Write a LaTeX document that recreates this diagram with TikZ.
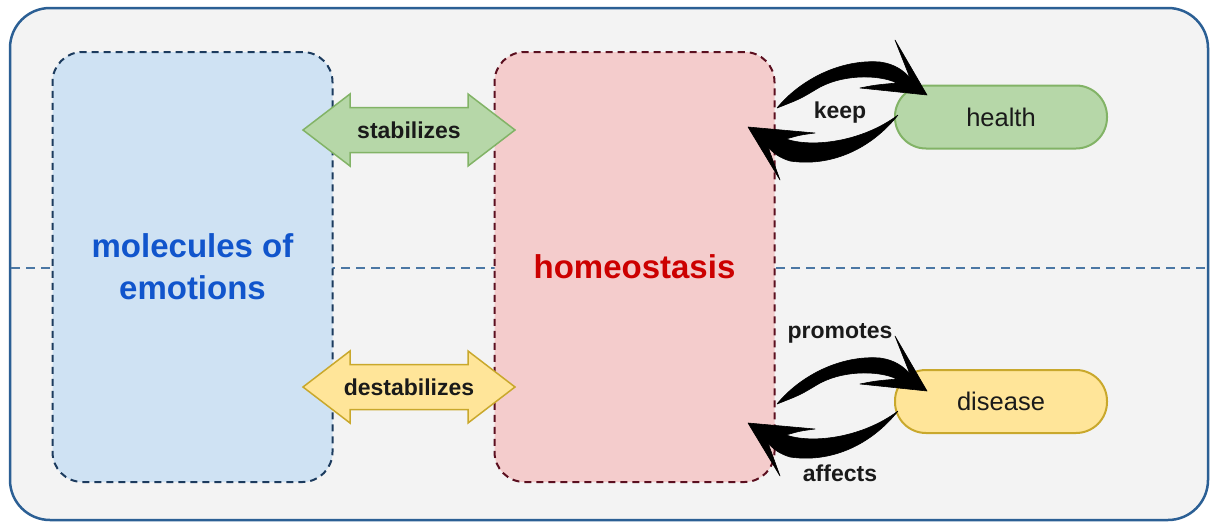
\documentclass[tikz,border=0pt]{standalone}
\usepackage{fontspec}
\setmainfont{Liberation Sans}
\definecolor{framebg}{HTML}{F3F3F3}
\definecolor{frameline}{HTML}{2B5F94}
\definecolor{molfill}{HTML}{CFE2F3}
\definecolor{molline}{HTML}{1C3B5E}
\definecolor{moltext}{HTML}{1155CC}
\definecolor{homfill}{HTML}{F4CCCC}
\definecolor{homline}{HTML}{5B0F1F}
\definecolor{homtext}{HTML}{CC0000}
\definecolor{grfill}{HTML}{B6D7A8}
\definecolor{grline}{HTML}{82B366}
\definecolor{yefill}{HTML}{FFE599}
\definecolor{yeline}{HTML}{C9A82C}
\definecolor{labtext}{HTML}{1A1A1A}
\begin{document}
\begin{tikzpicture}[x=1pt,y=-1pt,
  bigbox/.style={rectangle, rounded corners=30pt, line width=2pt, dash pattern=on 7pt off 5pt,
     minimum width=280pt, minimum height=430pt, align=center,
     font=\bfseries\fontsize{33}{42}\selectfont},
  pill/.style={rectangle, rounded corners=31pt, line width=2pt, minimum width=212pt, minimum height=63pt,
     font=\fontsize{25.5}{30}\selectfont, text=labtext},
  lab/.style={font=\bfseries\fontsize{23}{27}\selectfont, text=labtext},
  swoosh/.style={fill=black, draw=black, line width=0.6pt, line join=round}
]
\useasboundingbox (0,0) rectangle (1211,522);
\fill[white] (0,0) rectangle (1211,522);
% outer frame
\draw[fill=framebg, draw=frameline, line width=2.5pt, rounded corners=40pt] (10,8) rectangle (1208,520);
% divider
\draw[frameline!85, line width=1.6pt, dash pattern=on 9pt off 6pt] (11,268) -- (1207,268);
% big boxes
\node[bigbox, fill=molfill, draw=molline, text=moltext] (mol) at (192.5,267) {molecules of\\emotions};
\node[bigbox, fill=homfill, draw=homline, text=homtext] (hom) at (634.5,267) {homeostasis};
% pills
\node[pill, fill=grfill, draw=grline] (health) at (1001,117) {health};
\node[pill, fill=yefill, draw=yeline] (disease) at (1001,401.5) {disease};
% double arrows
\draw[fill=grfill, draw=grline, line width=1.5pt, line join=miter]
  (303,130) -- (350,94) -- (350,107.5) -- (468,107.5) -- (468,94) -- (515,130)
  -- (468,166) -- (468,152.5) -- (350,152.5) -- (350,166) -- cycle;
\node[lab] (stab) at (409,130) {stabilizes};
\draw[fill=yefill, draw=yeline, line width=1.5pt, line join=miter]
  (303,387) -- (350,351) -- (350,364.5) -- (468,364.5) -- (468,351) -- (515,387)
  -- (468,423) -- (468,409.5) -- (350,409.5) -- (350,423) -- cycle;
\node[lab] (destab) at (409,387) {destabilizes};
% curved arrows (top pair, repeated for bottom pair)
\foreach \dy in {0,296} {
\begin{scope}[yshift=-\dy pt]
  \fill[swoosh] (777,108) .. controls (800,80) and (840,59) .. (880,62)
     .. controls (895,64) and (904,71) .. (910,78) -- (895,40) -- (927,95) -- (860,88)
     .. controls (875,85) .. (897,83)
     .. controls (878,74) and (840,74) .. (815,90) .. controls (800,99) .. (777,108) -- cycle;
  \fill[swoosh] (898,115) .. controls (870,150) and (830,167) .. (790,161)
     .. controls (780,158) and (773,153) .. (768,147) -- (780,180) -- (748,127) -- (815,133)
     .. controls (800,135) .. (786,139)
     .. controls (812,148) and (862,142) .. (898,115) -- cycle;
\end{scope}
}
\node[lab] (keep) at (840,113) {keep};
\node[lab] (prom) at (840,333) {promotes};
\node[lab] (aff) at (840,473) {affects};
\end{tikzpicture}
\end{document}
